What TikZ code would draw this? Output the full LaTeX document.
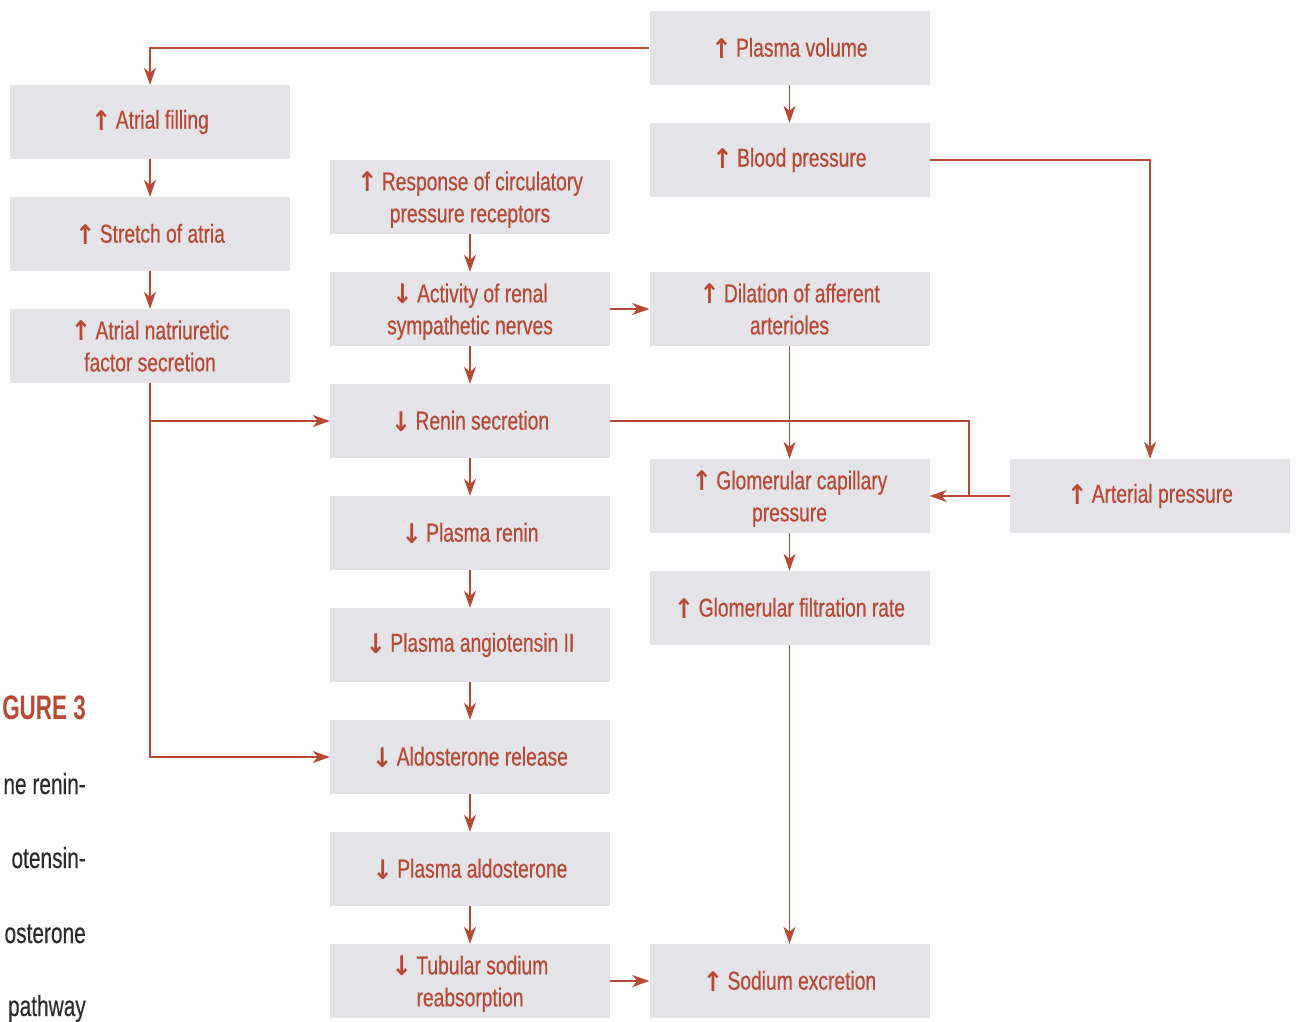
\documentclass[tikz,border=0pt]{standalone}
\usepackage{fontspec}
\setmainfont{Liberation Sans}[FakeStretch=0.74,FakeBold=0.5]
\newfontfamily\capfont{Liberation Sans}[FakeStretch=0.72,FakeBold=0.3]
\newfontfamily\figfont{Liberation Sans Bold}[FakeStretch=0.66]
\newfontfamily\arrfont{DejaVu Sans Bold}[FakeStretch=0.9]
\usetikzlibrary{arrows.meta}
\definecolor{boxgray}{HTML}{E4E3E8}
\definecolor{rust}{HTML}{B84A35}
\definecolor{captxt}{HTML}{2B2B2B}
\newcommand{\up}{{\arrfont\fontsize{27}{32}\selectfont\raisebox{-1.5pt}{↑}}\,}
\newcommand{\dn}{{\arrfont\fontsize{27}{32}\selectfont\raisebox{-1.5pt}{↓}}\,}
\newcommand{\twolines}[2]{\raisebox{-3pt}[\height][\depth]{\begin{tabular}{@{}c@{}}#1\\#2\end{tabular}}}
\begin{document}
\begin{tikzpicture}[x=1pt,y=-1pt,
  box/.style={fill=boxgray, minimum width=280pt, minimum height=74pt, inner sep=0pt,
    align=center, text=rust, font=\fontsize{26}{32}\selectfont},
  arr/.style={draw=rust, line width=1.2pt, -{Stealth[length=17pt,width=12pt,inset=5pt]}},
  ln/.style={draw=rust, line width=1.2pt},
  captext/.style={anchor=base east, inner sep=0pt, text=captxt, font=\capfont\fontsize{29}{32}\selectfont}]
\useasboundingbox (0,0) rectangle (1296,1021);
% left column
\node[box] (af) at (150,122) {\up Atrial filling};
\node[box] (sa) at (150,234) {\up Stretch of atria};
\node[box] (anf) at (150,346) {\twolines{\up Atrial natriuretic}{factor secretion}};
% middle column
\node[box] (resp) at (470,197) {\twolines{\up Response of circulatory}{pressure receptors}};
\node[box] (act) at (470,309) {\twolines{\dn Activity of renal}{sympathetic nerves}};
\node[box] (ren) at (470,421) {\dn Renin secretion};
\node[box] (pr) at (470,533) {\dn Plasma renin};
\node[box] (pa) at (470,645) {\dn Plasma angiotensin II};
\node[box] (ar) at (470,757) {\dn Aldosterone release};
\node[box] (pald) at (470,869) {\dn Plasma aldosterone};
\node[box] (ts) at (470,981) {\twolines{\dn Tubular sodium}{reabsorption}};
% right-middle column
\node[box] (pv) at (789.5,48) {\up Plasma volume};
\node[box] (bp) at (789.5,160) {\up Blood pressure};
\node[box] (dil) at (789.5,309) {\twolines{\up Dilation of afferent}{arterioles}};
\node[box] (gc) at (789.5,496) {\twolines{\up Glomerular capillary}{pressure}};
\node[box] (gfr) at (789.5,608) {\up Glomerular filtration rate};
\node[box] (se) at (789.5,981) {\up Sodium excretion};
% far right
\node[box] (ap) at (1150,496) {\up Arterial pressure};
% caption (cropped at left edge)
\node[anchor=base east, inner sep=0pt, text=rust, font=\figfont\fontsize{34}{36}\selectfont] (fig) at (86,719) {GURE 3};
\node[captext] (c1) at (86,794) {ne renin-};
\node[captext] (c2) at (86,868) {otensin-};
\node[captext] (c3) at (86,943) {osterone};
\node[captext] (c4) at (86,1016) {pathway};
% connectors
\draw[arr] (pv.west) -| (af.north);
\draw[arr] (pv) -- (bp);
\draw[arr] (bp.east) -| (ap.north);
\draw[arr] (af) -- (sa);
\draw[arr] (sa) -- (anf);
\draw[arr] (anf.south) |- (ar.west);
\draw[arr] (anf.south |- ren.west) -- (ren.west);
\draw[arr] (resp) -- (act);
\draw[arr] (act) -- (ren);
\draw[arr] (ren) -- (pr);
\draw[arr] (pr) -- (pa);
\draw[arr] (pa) -- (ar);
\draw[arr] (ar) -- (pald);
\draw[arr] (pald) -- (ts);
\draw[arr] (act.east) -- (dil.west);
\draw[arr] (dil) -- (gc);
\coordinate (j) at (969,496);
\draw[ln] (ren.east) -| (j);
\draw[arr] (ap.west) -- (gc.east);
\draw[arr] (gc) -- (gfr);
\draw[arr] (gfr) -- (se);
\draw[arr] (ts.east) -- (se.west);
\end{tikzpicture}
\end{document}
